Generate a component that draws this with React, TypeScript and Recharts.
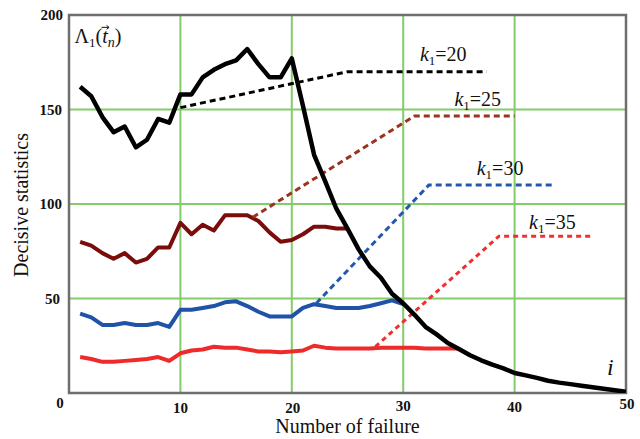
import React from 'react';
import {
  LineChart,
  Line,
  XAxis,
  YAxis,
  CartesianGrid,
  ReferenceArea,
  ReferenceDot,
} from 'recharts';

const SERIF = '"Liberation Serif", "Times New Roman", serif';

// failure number i for every solid curve
const failures = [
  1, 2, 3, 4, 5, 6, 7, 8, 9, 10, 11, 12, 13, 14, 15, 16, 17, 18, 19, 20,
  21, 22, 23, 24, 25, 26, 27, 28, 29, 30, 31, 32, 33, 34, 35, 36, 37, 38, 39, 40,
  41, 42, 43, 44, 45, 46, 47, 48, 49, 50,
];

// Λ1(t_n) decisive statistic
const lambdaValues = [
  162, 157, 146, 138, 141, 130, 134, 145, 143, 158, 158, 167, 171, 174, 176, 182, 174, 167, 167, 177,
  152, 126, 112, 97.5, 87, 76, 67, 61, 52.5, 47.5, 41.5, 35, 31, 26.5, 23.3, 20, 17.3, 15, 13, 10.6,
  9.3, 8, 6.5, 5.5, 4.7, 3.8, 3, 2.3, 1.5, 0.7,
];

// threshold curves for k1 = 25, 30, 35 (solid parts)
const k25Values = [
  80, 78, 74, 71, 74, 69, 71, 77, 77, 90, 84, 89, 86, 94, 94, 94, 91, 85, 80, 81,
  84, 88, 88, 87, 87,
];
const k30Values = [
  42, 40, 36, 36, 37, 36, 36, 37, 35, 44, 44, 45, 46, 48, 48.5, 46, 43, 40.5, 40.5, 40.5,
  45, 47, 46, 45, 45, 45, 46, 47.5, 49, 47,
];
const k35Values = [
  19, 18, 16.5, 16.5, 17, 17.5, 18, 19, 17, 21, 22.5, 23, 24.5, 24, 24, 23, 22, 22, 21.5, 22,
  22.5, 25, 24, 23.5, 23.5, 23.5, 23.5, 24, 24, 24, 24, 23.5, 23.5, 23.5, 23.5,
];

// dashed extrapolations
const k20DashX = [10, 25, 37.5];
const k20DashY = [151, 170, 170];
const k25DashX = [16.5, 31, 40];
const k25DashY = [93, 146.5, 146.5];
const k30DashX = [22.2, 32.3, 43.5];
const k30DashY = [47.5, 110, 110];
const k35DashX = [27.5, 38.6, 46.8];
const k35DashY = [24.5, 83, 83];

const xTicks = [0, 10, 20, 30, 40, 50];
const yTicks = [50, 100, 150, 200];

const kLabels = ['20', '25', '30', '35'];
const kLabelX = [31.5, 34.6, 36.6, 41.3];
const kLabelY = [175.5, 152, 115.5, 87];

const toPoints = (xs: number[], ys: number[]) => ys.map((y, i) => ({ x: xs[i], y }));

const lambdaData = toPoints(failures, lambdaValues);
const k25Data = toPoints(failures, k25Values);
const k30Data = toPoints(failures, k30Values);
const k35Data = toPoints(failures, k35Values);

const xTickShift: Record<number, [number, number]> = {
  0: [-9, 10], 10: [0, 15], 20: [1, 15], 30: [0, 13], 40: [0, 14], 50: [1, 11],
};
const yTickShift: Record<number, number> = { 50: -9, 100: -7, 150: -7, 200: -6 };

const XTick = (props: any) => {
  const { x, y, payload } = props;
  const [dx, dy] = xTickShift[payload.value] || [0, 14];
  return (
    <text x={x + dx} y={y + dy + 5} textAnchor="middle" fontFamily={SERIF} fontWeight="bold" fontSize={15} fill="#111">
      {payload.value}
    </text>
  );
};

const YTick = (props: any) => {
  const { x, y, payload } = props;
  const dx = yTickShift[payload.value] ?? -7;
  return (
    <text x={x + dx} y={y + 5} textAnchor="end" fontFamily={SERIF} fontWeight="bold" fontSize={15} fill="#111">
      {payload.value}
    </text>
  );
};

const kLabel = (value: string) => (props: any) => {
  const { x, y } = props.viewBox;
  return (
    <text x={x} y={y} style={{ fontFamily: SERIF }} fontSize={20} fill="#111">
      <tspan fontStyle="italic">k</tspan>
      <tspan fontSize={13} dy={4}>1</tspan>
      <tspan dy={-4}>={value}</tspan>
    </text>
  );
};

const lambdaLabel = (props: any) => {
  const { x, y } = props.viewBox;
  return (
    <g>
      <text x={x} y={y} style={{ fontFamily: SERIF }} fontSize={20} fill="#111">
        <tspan>Λ</tspan>
        <tspan fontSize={13} dy={4}>1</tspan>
        <tspan dy={-4}>(</tspan>
        <tspan fontStyle="italic">t</tspan>
        <tspan fontSize={14} fontStyle="italic" dy={4}>n</tspan>
        <tspan dy={-4}>)</tspan>
      </text>
      <path
        d={`M${x + 27},${y - 16} h7 M${x + 32},${y - 18} l2.5,2 l-2.5,2`}
        stroke="#111"
        strokeWidth={1}
        fill="none"
      />
    </g>
  );
};

const iLabel = (props: any) => {
  const { x, y } = props.viewBox;
  return (
    <text x={x} y={y} style={{ fontFamily: SERIF }} fontStyle="italic" fontSize={24} fill="#111">i</text>
  );
};

const xLabel = (props: any) => {
  const { x, y, width } = props.viewBox;
  return (
    <text x={x + width / 2} y={y + 40} textAnchor="middle" style={{ fontFamily: SERIF }} fontSize={20} fill="#111">
      Number of failure
    </text>
  );
};

const yLabel = (props: any) => {
  const { x, y, height } = props.viewBox;
  const cx = x + 2;
  const cy = y + height / 2 + 1;
  return (
    <text x={cx} y={cy} transform={`rotate(-90 ${cx} ${cy})`} textAnchor="middle" dominantBaseline="central" style={{ fontFamily: SERIF }} fontSize={20} fill="#111">
      Decisive statistics
    </text>
  );
};

export default function App() {
  return (
    <div style={{ position: 'absolute', left: 0, top: 0 }}>
      <LineChart width={640} height={439} margin={{ top: 15, right: 14, bottom: 6, left: 19 }}>
        <CartesianGrid stroke="#84cc6a" strokeWidth={2} />
        <XAxis
          type="number"
          dataKey="x"
          domain={[0, 50]}
          ticks={xTicks}
          axisLine={false}
          tickLine={false}
          tickSize={0}
          tickMargin={0}
          height={40}
          tick={<XTick />}
          label={xLabel}
          allowDataOverflow
        />
        <YAxis
          type="number"
          dataKey="y"
          domain={[0, 200]}
          ticks={yTicks}
          axisLine={false}
          tickLine={false}
          tickSize={0}
          tickMargin={0}
          width={50}
          tick={<YTick />}
          label={yLabel}
          allowDataOverflow
        />
        <ReferenceArea x1={0} x2={50} y1={0} y2={200} fill="none" stroke="#6e6e6e" strokeWidth={2.5} />

        <Line data={k25Data} dataKey="y" stroke="#7a0c0c" strokeWidth={4} dot={false} strokeLinejoin="round" isAnimationActive={false} />
        <Line data={k30Data} dataKey="y" stroke="#1f52a8" strokeWidth={4} dot={false} strokeLinejoin="round" isAnimationActive={false} />
        <Line data={k35Data} dataKey="y" stroke="#ee2b2b" strokeWidth={4} dot={false} strokeLinejoin="round" isAnimationActive={false} />

        <Line data={toPoints(k20DashX, k20DashY)} dataKey="y" stroke="#000" strokeWidth={3} strokeDasharray="6 4" dot={false} isAnimationActive={false} />
        <Line data={toPoints(k25DashX, k25DashY)} dataKey="y" stroke="#9c3320" strokeWidth={3} strokeDasharray="6 4" dot={false} isAnimationActive={false} />
        <Line data={toPoints(k30DashX, k30DashY)} dataKey="y" stroke="#2458b0" strokeWidth={3} strokeDasharray="6 4" dot={false} isAnimationActive={false} />
        <Line data={toPoints(k35DashX, k35DashY)} dataKey="y" stroke="#ee3030" strokeWidth={3} strokeDasharray="5 4" dot={false} isAnimationActive={false} />

        <Line data={lambdaData} dataKey="y" stroke="#000" strokeWidth={4.5} dot={false} strokeLinejoin="round" isAnimationActive={false} />

        {kLabels.map((k, i) => (
          <ReferenceDot key={k} x={kLabelX[i]} y={kLabelY[i]} r={0} fill="none" stroke="none" label={kLabel(k)} />
        ))}
        <ReferenceDot x={0.5} y={185} r={0} fill="none" stroke="none" label={lambdaLabel} />
        <ReferenceDot x={48.3} y={9.7} r={0} fill="none" stroke="none" label={iLabel} />
      </LineChart>
    </div>
  );
}
